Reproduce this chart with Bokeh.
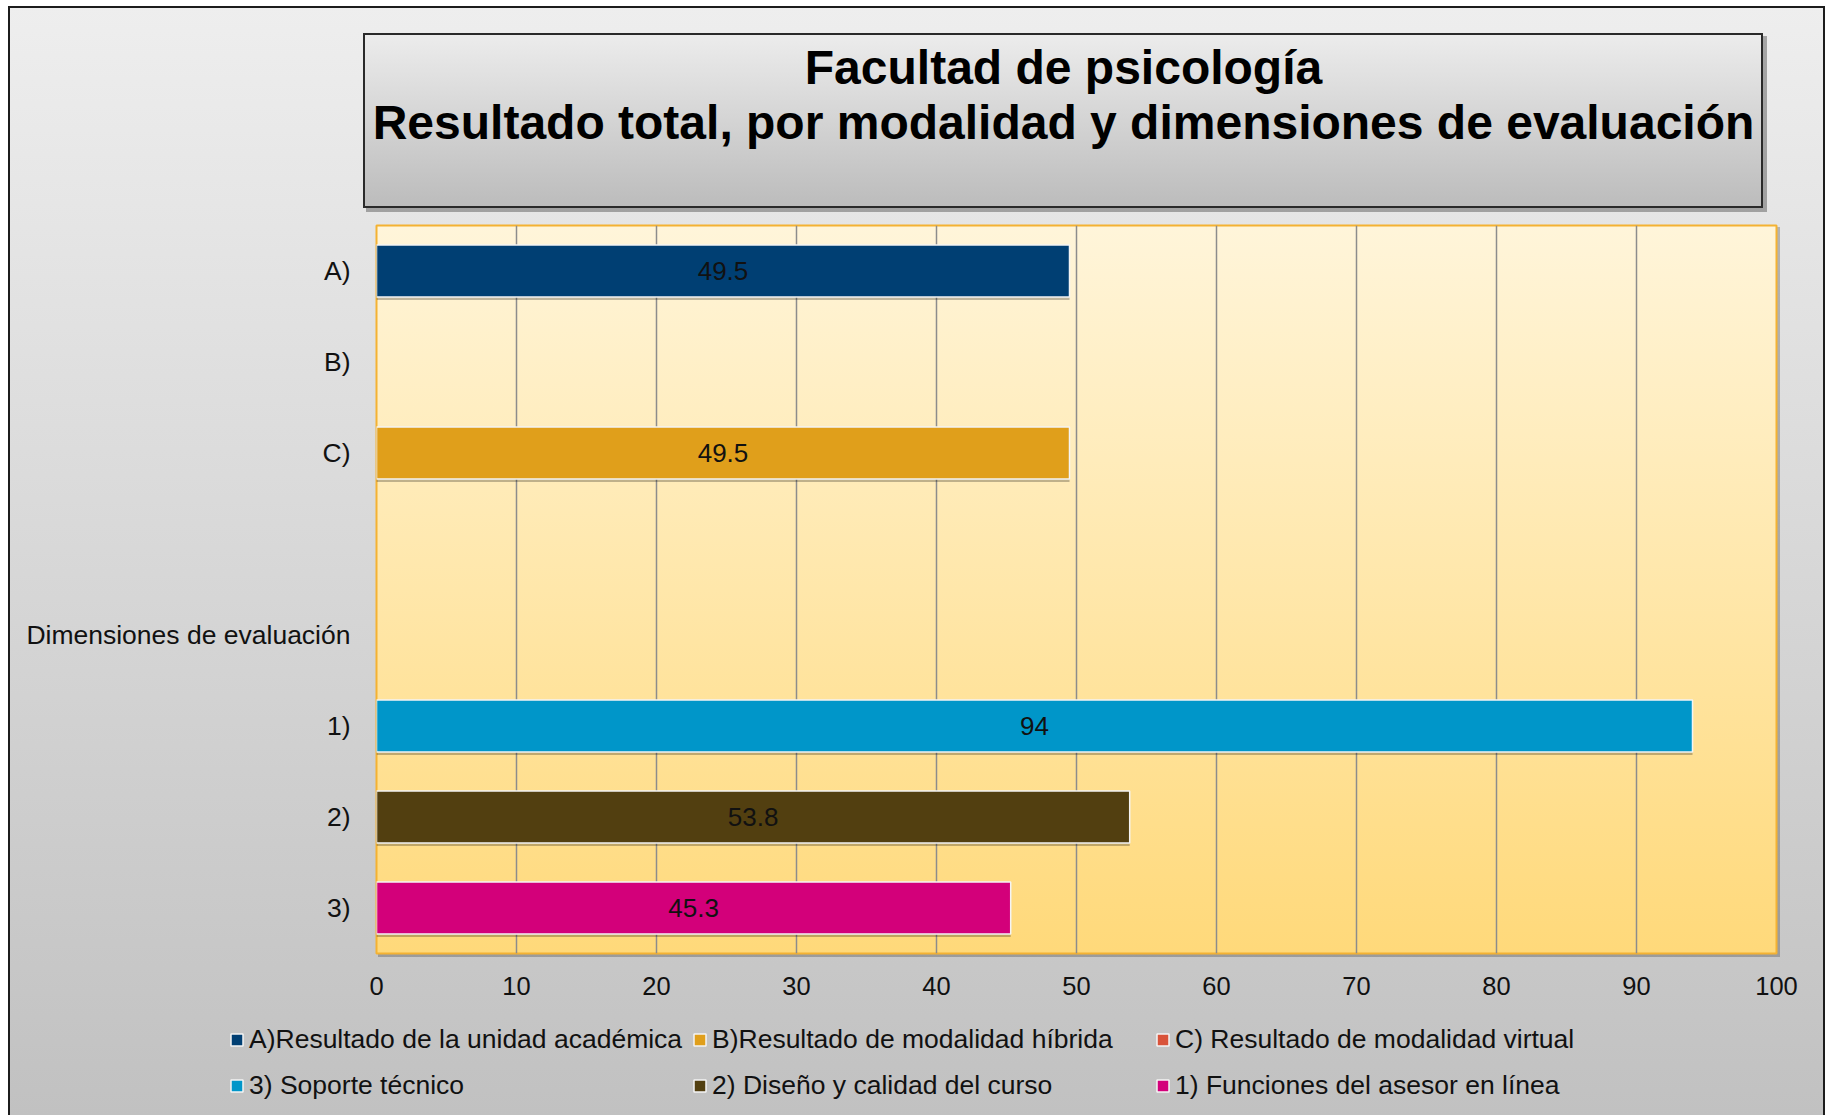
import numpy as np
from bokeh.plotting import figure
from bokeh.layouts import column
from bokeh.models import (ColumnDataSource, FactorRange, Range1d, Legend, LegendItem,
                          LabelSet, Label, SingleIntervalTicker)
from bokeh.transform import dodge
from bokeh.embed import file_html
from bokeh.resources import INLINE
from bokeh.core.properties import value

# ---------------- data ----------------
title_line1 = "Facultad de psicología"
title_line2 = "Resultado total, por modalidad y dimensiones de evaluación"

categories = ["A)", "B)", "C)", " ", "Dimensiones de evaluación", "1)", "2)", "3)"]

series_names = [
    "A)Resultado de la unidad académica",
    "B)Resultado de modalidad híbrida",
    "C) Resultado de modalidad virtual",
    "3) Soporte técnico",
    "2) Diseño y calidad del curso",
    "1) Funciones del asesor en línea",
]
series_colors = ["#003F73", "#E09F1B", "#D9533A", "#0096C9", "#523F10", "#D3007A"]
# category row in which each series draws its bar (None = no bar)
series_category = ["A)", "C)", None, "1)", "2)", "3)"]
series_value = [49.5, 49.5, None, 94, 53.8, 45.3]

x_ticks_step = 10
x_min, x_max = 0, 100

FONT = "Liberation Sans"
W = 1825
TITLE_H, MAIN_H, LEG_H = 215, 795, 105
TOTAL_H = TITLE_H + MAIN_H + LEG_H
FL, FW, FH = 376, 1400, 728
FT_LOCAL = 10                                  # frame top inside the main figure


def no_align(f):
    try:
        f.frame_align = False
    except AttributeError:
        pass


def blank_fig(h):
    f = figure(width=W, height=h, output_backend="svg", toolbar_location=None,
               x_axis_type=None, y_axis_type=None,
               x_range=Range1d(0, 1), y_range=Range1d(0, 1),
               min_border_left=0, min_border_right=0, min_border_top=0, min_border_bottom=0)
    f.background_fill_color = None
    f.border_fill_color = None
    f.outline_line_color = None
    no_align(f)
    return f


# ---------------- title ----------------
pt = blank_fig(TITLE_H)
for txt, base in ((title_line1, 67), (title_line2, 122)):
    pt.add_layout(Label(x=1063, y=TITLE_H - base, x_units="screen", y_units="screen",
                        text=txt, text_align="center", text_baseline="alphabetic",
                        text_font=FONT, text_font_style="bold", text_font_size="48px",
                        text_color="#000000"))

# ---------------- main chart ----------------
p = figure(width=W, height=MAIN_H, output_backend="svg", toolbar_location=None,
           y_range=FactorRange(factors=list(reversed(categories)), range_padding=0),
           x_range=Range1d(x_min, x_max),
           min_border_left=FL, min_border_right=W - FL - FW,
           min_border_top=FT_LOCAL, min_border_bottom=MAIN_H - FT_LOCAL - FH)
no_align(p)
p.background_fill_color = None
p.border_fill_color = None
p.outline_line_color = "#F4B232"
p.outline_line_width = 2

p.ygrid.grid_line_color = None
p.xgrid.grid_line_color = "#8C8C8C"
p.xgrid.grid_line_width = 1.5
p.xaxis.ticker = SingleIntervalTicker(interval=x_ticks_step)

for ax in (p.xaxis, p.yaxis):
    ax.axis_line_color = None
    ax.major_tick_line_color = None
    ax.minor_tick_line_color = None
    ax.major_label_text_font = FONT
    ax.major_label_text_color = "#111111"
p.xaxis.major_label_text_font_size = "25.5px"
p.xaxis.major_label_standoff = 17
p.yaxis.major_label_text_font_size = "26.5px"
p.yaxis.major_label_standoff = 20

for name, color, cat, val in zip(series_names, series_colors, series_category, series_value):
    if cat is None:
        continue
    src = ColumnDataSource(dict(y=[cat], x=[val], mid=[val / 2], lab=[f"{val:g}"]))
    p.hbar(y=dodge("y", -0.035, range=p.y_range), right="x", left=0, height=0.57, source=src,
           fill_color="black", fill_alpha=0.25, line_color=None)
    p.hbar(y="y", right="x", left=0, height=0.57, source=src,
           fill_color=color, line_color="#F4F4F4", line_width=1.5)
    p.add_layout(LabelSet(x="mid", y="y", text="lab", source=src, text_align="center",
                          text_baseline="middle", text_font=value(FONT),
                          text_font_size="26px", text_color="#111111"))

# ---------------- legend ----------------
pl = blank_fig(LEG_H)
items = []
for name, color in zip(series_names, series_colors):
    sw = pl.hbar(y=np.array([np.nan]), right=np.array([np.nan]), left=0, height=1,
                 fill_color=color, line_color="#F4F4F4", line_width=1.5)
    items.append(LegendItem(label=name, renderers=[sw]))

legend_style = dict(orientation="horizontal", margin=0, padding=0, spacing=0,
                    glyph_width=15, glyph_height=15, label_standoff=5,
                    label_width=443, label_height=30,
                    label_text_font=FONT, label_text_font_size="26.5px",
                    label_text_color="#111111",
                    background_fill_alpha=0, border_line_color=None)
row1_center, row2_center = 1040 - (TITLE_H + MAIN_H), 1086 - (TITLE_H + MAIN_H)
pl.add_layout(Legend(items=items[:3], location=(229, LEG_H - row1_center - 15), **legend_style))
pl.add_layout(Legend(items=items[3:], location=(229, LEG_H - row2_center - 15), **legend_style))

# ---------------- page / backgrounds ----------------
BH = TOTAL_H - 6
layers = [
    # outer border lines
    f"linear-gradient(#1c1c1c,#1c1c1c) 8px 6px / 2px {BH}px no-repeat",
    "linear-gradient(#1c1c1c,#1c1c1c) 8px 6px / 1817px 2px no-repeat",
    f"linear-gradient(#1c1c1c,#1c1c1c) 1823px 6px / 2px {BH}px no-repeat",
    # title box
    "linear-gradient(to bottom, #ECECEC, #BCBCBC) 365px 35px / 1396px 171px no-repeat",
    "linear-gradient(#2a2a2a, #2a2a2a) 363px 33px / 1400px 175px no-repeat",
    "linear-gradient(rgba(0,0,0,0.30), rgba(0,0,0,0.30)) 366px 36px / 1401px 176px no-repeat",
    # plot area
    "linear-gradient(to bottom, #FFF5DA, #FFD97A) 376px 225px / 1400px 728px no-repeat",
    "linear-gradient(rgba(0,0,0,0.22), rgba(0,0,0,0.22)) 378px 227px / 1402px 730px no-repeat",
    # chart background
    f"linear-gradient(to bottom, #EEEEEE, #C1C1C1) 8px 6px / 1817px {BH}px no-repeat",
    "#FFFFFF",
]
page = column(pt, p, pl, spacing=0, styles={"background": ", ".join(layers)})

open("out.html", "w").write(file_html(page, INLINE))
